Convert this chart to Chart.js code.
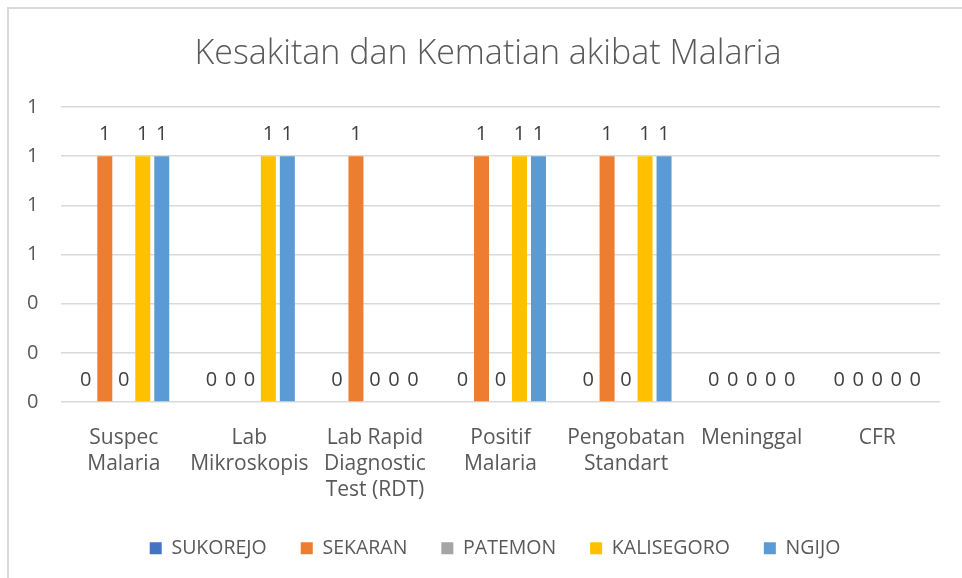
<!DOCTYPE html>
<html lang="id">
  <head>
    <meta charset="UTF-8" />
    <title>Kesakitan dan Kematian akibat Malaria</title>
    <script src="https://cdn.jsdelivr.net/npm/chart.js"></script>
    <style>
      body {
        margin: 0;
        background: #fff;
        overflow: hidden;
      }
      #frame {
        position: absolute;
        left: 7px;
        top: 7px;
        width: 1000px;
        height: 600px;
        border-left: 2px solid #d9d9d9;
        border-top: 2px solid #d9d9d9;
      }
      #wrap {
        position: absolute;
        left: 0;
        top: 0;
        width: 962px;
        height: 578px;
      }
    </style>
  </head>
  <body>
    <div id="frame"></div>
    <div id="wrap">
      <canvas id="grafik"></canvas>
    </div>
    <script>
      const kategori = [
        ["Suspec", "Malaria"],
        ["Lab", "Mikroskopis"],
        ["Lab Rapid", "Diagnostic", "Test (RDT)"],
        ["Positif", "Malaria"],
        ["Pengobatan", "Standart"],
        "Meninggal",
        "CFR",
      ];
      const sukorejo = [0, 0, 0, 0, 0, 0, 0];
      const sekaran = [1, 0, 1, 1, 1, 0, 0];
      const patemon = [0, 0, 0, 0, 0, 0, 0];
      const kalisegoro = [1, 1, 0, 1, 1, 0, 0];
      const ngijo = [1, 1, 0, 1, 1, 0, 0];

      const huruf = "'Open Sans', Lato, sans-serif";
      const abu = "#595959";

      // angka di atas tiap batang, dibulatkan seperti format sumbu
      const labelNilai = {
        id: "labelNilai",
        afterDatasetsDraw(chart) {
          const ctx = chart.ctx;
          ctx.save();
          ctx.font = "20px " + huruf;
          ctx.fillStyle = "#404040";
          ctx.textAlign = "center";
          ctx.textBaseline = "middle";
          chart.data.datasets.forEach((ds, i) => {
            const meta = chart.getDatasetMeta(i);
            meta.data.forEach((bar, j) => {
              ctx.fillText(Math.round(ds.data[j]), bar.x, bar.y - 22);
            });
          });
          ctx.restore();
        },
      };

      // legenda tetap pakai jarak antar item yang lebar, tapi tingginya dipendekkan,
      // lalu digeser sedikit ke kanan
      const aturLegenda = {
        id: "aturLegenda",
        afterInit(chart) {
          const lg = chart.legend;
          const fitAsli = lg.fit.bind(lg);
          lg.fit = function () {
            fitAsli();
            this.height = 69;
          };
        },
        afterLayout(chart) {
          chart.legend.left += 7;
          chart.legend.right += 7;
        },
      };

      const datas = {
        labels: kategori,
        datasets: [
          { label: "SUKOREJO", data: sukorejo, backgroundColor: "#4472C4" },
          { label: "SEKARAN", data: sekaran, backgroundColor: "#ED7D31" },
          { label: "PATEMON", data: patemon, backgroundColor: "#A5A5A5" },
          { label: "KALISEGORO", data: kalisegoro, backgroundColor: "#FFC000" },
          { label: "NGIJO", data: ngijo, backgroundColor: "#5B9BD5" },
        ],
      };

      const config = {
        type: "bar",
        data: datas,
        plugins: [labelNilai, aturLegenda],
        options: {
          responsive: true,
          maintainAspectRatio: false,
          animation: false,
          datasets: {
            bar: { categoryPercentage: 0.756, barPercentage: 0.79 },
          },
          // kiri dibuat lebar agar judul ke kanan; label sumbu y di-mirror keluar
          layout: { padding: { left: 36, right: 22, top: 0, bottom: 4.5 } },
          plugins: {
            title: {
              display: true,
              text: "Kesakitan dan Kematian akibat Malaria",
              color: abu,
              font: { family: huruf, size: 34, weight: 300, lineHeight: 1.2 },
              padding: { top: 33.6, bottom: 32.6 },
            },
            legend: {
              position: "bottom",
              labels: {
                color: abu,
                font: { family: huruf, size: 19.5 },
                boxWidth: 12,
                boxHeight: 12,
                padding: 34,
              },
            },
            tooltip: { enabled: false },
          },
          scales: {
            x: {
              grid: { display: false },
              border: { display: false },
              afterFit(scale) {
                scale.height = 102.5;
              },
              ticks: {
                color: abu,
                font: { family: huruf, size: 21, lineHeight: 1.24 },
                padding: 15,
                maxRotation: 0,
                autoSkip: false,
              },
            },
            y: {
              min: 0,
              max: 1.2,
              grid: { color: "#d9d9d9", lineWidth: 1.5, drawTicks: false },
              border: { display: false },
              afterFit(scale) {
                scale.width = 25;
              },
              ticks: {
                stepSize: 0.2,
                mirror: true,
                padding: -34,
                color: abu,
                font: { family: huruf, size: 20 },
                callback: (v) => Math.round(v),
              },
            },
          },
        },
      };

      new Chart(document.getElementById("grafik"), config);
    </script>
  </body>
</html>
